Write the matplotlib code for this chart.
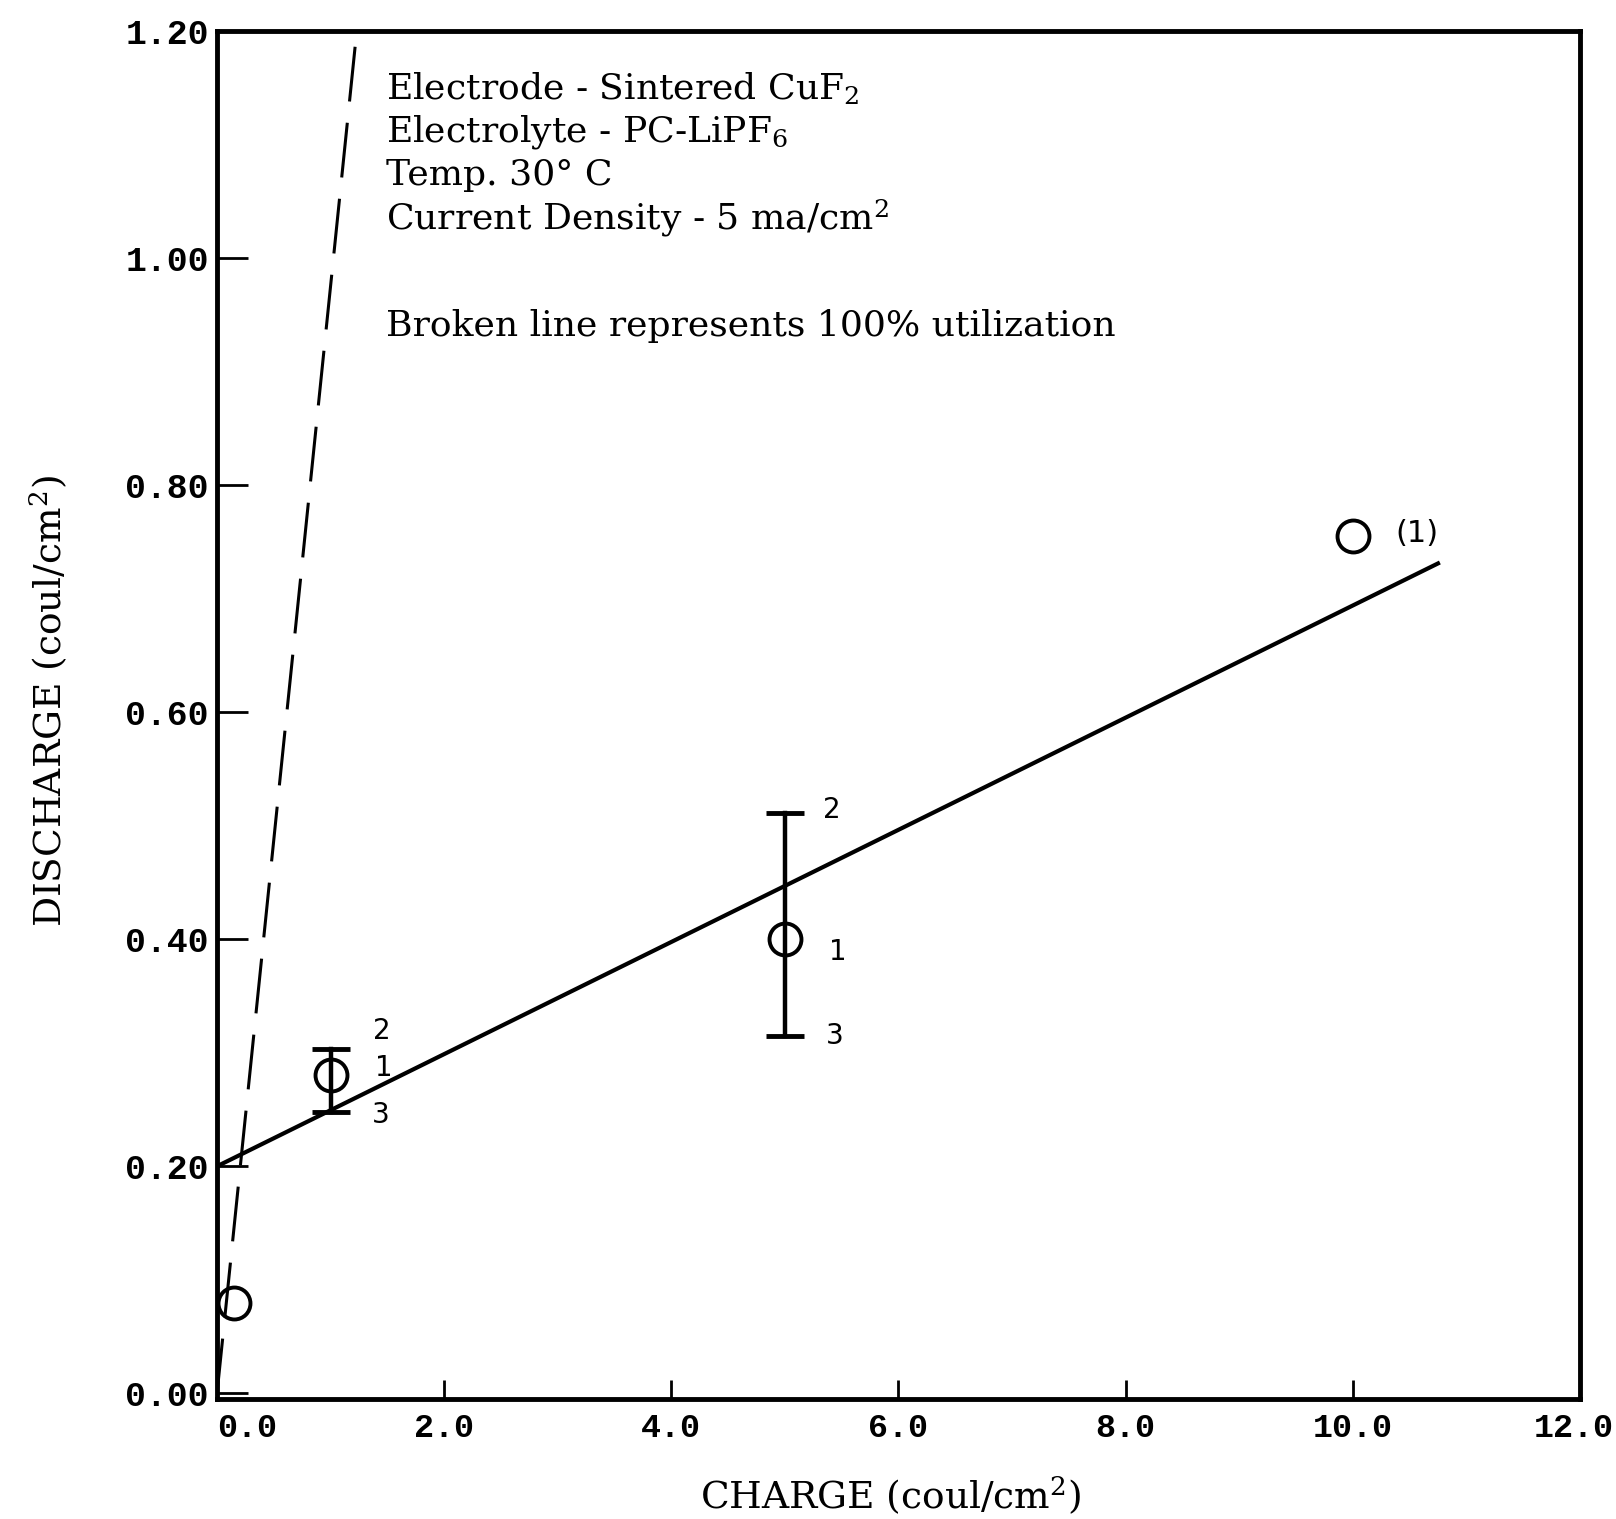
import matplotlib
matplotlib.use("Agg")
import matplotlib.pyplot as plt
import matplotlib.transforms as mtransforms

plt.rcParams['font.family'] = ['DejaVu Serif']
plt.rcParams['mathtext.fontset'] = 'dejavuserif'

# data (coul/cm^2)
charge = [0.15, 1.0, 5.0, 10.0]
discharge = [0.08, 0.28, 0.40, 0.755]
err_x = [1.0, 5.0]
err_hi = [0.303, 0.511]
err_lo = [0.248, 0.315]
fit_x = [0.0, 10.75]
fit_y = [0.20, 0.731]
util_x = [0.0, 1.23]
util_y = [0.0, 1.20]

xticks = [0, 2, 4, 6, 8, 10, 12]
xlabels = ['0.0', '2.0', '4.0', '6.0', '8.0', '10.0', '12.0']
yticks = [0.0, 0.2, 0.4, 0.6, 0.8, 1.0, 1.2]
ylabels = ['0.00', '0.20', '0.40', '0.60', '0.80', '1.00', '1.20']

fig = plt.figure(figsize=(16.16, 15.19), dpi=100)
ax = fig.add_axes([0.1343, 0.079, 0.8434, 0.9006])

ax.plot(util_x, util_y, color='black', lw=2.2, linestyle=(0, (18, 7)))
ax.plot(fit_x, fit_y, color='black', lw=3)

for x, lo, hi in zip(err_x, err_lo, err_hi):
    ax.plot([x, x], [lo, hi], color='black', lw=3.2)
    ax.plot([x], [lo], marker='_', ms=28, mew=3.5, color='black')
    ax.plot([x], [hi], marker='_', ms=28, mew=3.5, color='black')

ax.plot(charge, discharge, 'o', ms=23, mfc='none', mec='black', mew=2.8)


def tag(s, xy, dx, dy, fs=20):
    ax.annotate(s, xy, xytext=(dx, dy), textcoords='offset points',
                ha='center', va='center', fontsize=fs, family='DejaVu Sans')


# replicate numbers beside the error bars
tag('2', (err_x[0], err_hi[0]), 37, 13)
tag('1', (charge[1], discharge[1]), 38, 5)
tag('3', (err_x[0], err_lo[0]), 36, -2)
tag('2', (err_x[1], err_hi[1]), 34, 2)
tag('1', (charge[2], discharge[2]), 38, -9)
tag('3', (err_x[1], err_lo[1]), 36, 0)
tag('(1)', (charge[3], discharge[3]), 46, 2, fs=22)

info = ['Electrode - Sintered CuF$_{2}$',
        'Electrolyte - PC-LiPF$_{6}$',
        'Temp. 30° C',
        'Current Density - 5 ma/cm$^{2}$']
for i, s in enumerate(info):
    ax.text(0.124, 0.958 - i * 0.0315, s, transform=ax.transAxes,
            fontsize=26, va='center', ha='left')
ax.text(0.124, 0.784, 'Broken line represents 100% utilization',
        transform=ax.transAxes, fontsize=26, va='center', ha='left')

ax.set_xlim(0, 12)
ax.set_ylim(-0.005, 1.2)
ax.set_xticks(xticks)
ax.set_xticklabels(xlabels, family='Liberation Mono', fontsize=24, weight='bold')
ax.set_yticks(yticks)
ax.set_yticklabels(ylabels, family='Liberation Mono', fontsize=25, weight='bold')
ax.tick_params(axis='x', direction='in', length=14, width=2, pad=10)
ax.tick_params(axis='y', direction='in', length=22, width=2, pad=6)

# first label sits right of the origin, last one hugs the right edge
xl = ax.get_xticklabels()
xl[0].set_horizontalalignment('left')
xl[-1].set_horizontalalignment('right')
xl[-1].set_transform(xl[-1].get_transform() +
                     mtransforms.ScaledTranslation(0.34, 0, fig.dpi_scale_trans))

for sp in ax.spines.values():
    sp.set_linewidth(3.5)

ax.set_xlabel('CHARGE (coul/cm$^{2}$)', fontsize=27, va='top')
ax.xaxis.set_label_coords(0.4945, -0.055)
ax.set_ylabel('DISCHARGE (coul/cm$^{2}$)', fontsize=27)
ax.yaxis.set_label_coords(-0.108, 0.51)

fig.savefig('out.png', dpi=100)
